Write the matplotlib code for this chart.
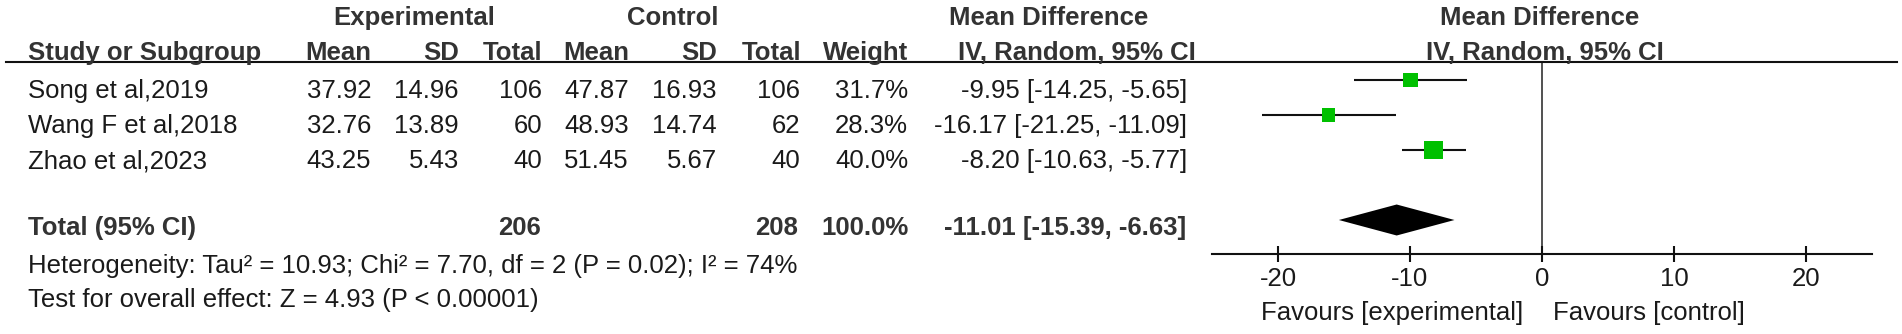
import matplotlib.pyplot as plt

# study data
studies = ["Song et al,2019", "Wang F et al,2018", "Zhao et al,2023"]
exp_mean = [37.92, 32.76, 43.25]
exp_sd = [14.96, 13.89, 5.43]
exp_n = [106, 60, 40]
ctl_mean = [47.87, 48.93, 51.45]
ctl_sd = [16.93, 14.74, 5.67]
ctl_n = [106, 62, 40]
weight = [31.7, 28.3, 40.0]
md = [-9.95, -16.17, -8.20]
md_lo = [-14.25, -21.25, -10.63]
md_hi = [-5.65, -11.09, -5.77]

total_exp_n = 206
total_ctl_n = 208
total_weight = 100.0
total_md = -11.01
total_lo = -15.39
total_hi = -6.63

heterogeneity = "Heterogeneity: Tau² = 10.93; Chi² = 7.70, df = 2 (P = 0.02); I² = 74%"
overall = "Test for overall effect: Z = 4.93 (P < 0.00001)"
xticks = [-20, -10, 0, 10, 20]

W, H = 1902, 334
FS = 18.5
TXT = "#1a1a1a"
BLD = "#333333"
plt.rcParams["font.family"] = ["Liberation Sans", "DejaVu Sans"]

fig = plt.figure(figsize=(W / 100, H / 100), dpi=100)


def put(x, y, s, ha="left", bold=False):
    fig.text(x / W, 1 - y / H, s, ha=ha, va="baseline", fontsize=FS,
             fontweight="bold" if bold else "normal",
             color=BLD if bold else TXT)


# headers
put(414, 25, "Experimental", "center", True)
put(673, 25, "Control", "center", True)
put(1049, 25, "Mean Difference", "center", True)
put(1540, 25, "Mean Difference", "center", True)

put(28, 60, "Study or Subgroup", bold=True)
put(371, 60, "Mean", "right", True)
put(459, 60, "SD", "right", True)
put(542, 60, "Total", "right", True)
put(629, 60, "Mean", "right", True)
put(717, 60, "SD", "right", True)
put(801, 60, "Total", "right", True)
put(908, 60, "Weight", "right", True)
put(1077, 60, "IV, Random, 95% CI", "center", True)
put(1545, 60, "IV, Random, 95% CI", "center", True)

fig.add_artist(plt.Line2D([6 / W, 1897 / W], [1 - 62 / H, 1 - 62 / H],
                          color="#111111", lw=1.5))

# study rows
for i in range(len(studies)):
    y = 98 + 35 * i
    put(28, y, studies[i])
    put(371, y, "%.2f" % exp_mean[i], "right")
    put(459, y, "%.2f" % exp_sd[i], "right")
    put(542, y, "%d" % exp_n[i], "right")
    put(629, y, "%.2f" % ctl_mean[i], "right")
    put(717, y, "%.2f" % ctl_sd[i], "right")
    put(800, y, "%d" % ctl_n[i], "right")
    put(908, y, "%.1f%%" % weight[i], "right")
    put(1187, y, "%.2f [%.2f, %.2f]" % (md[i], md_lo[i], md_hi[i]), "right")

# total row
put(28, 235, "Total (95% CI)", bold=True)
put(541, 235, "%d" % total_exp_n, "right", True)
put(798, 235, "%d" % total_ctl_n, "right", True)
put(909, 235, "%.1f%%" % total_weight, "right", True)
put(1186, 235, "%.2f [%.2f, %.2f]" % (total_md, total_lo, total_hi), "right", True)
put(28, 273, heterogeneity)
put(28, 307, overall)

# forest plot
ax = fig.add_axes([1212 / W, 1 - 254 / H, 660 / W, (254 - 62) / H])
ax.set_xlim(-25, 25)
ax.set_ylim(174 / 35, -18 / 35)
rows = list(range(len(studies)))
ax.hlines(rows, md_lo, md_hi, color="#111111", lw=1.5, zorder=2)
sizes = [(0.47 * w * 0.72) ** 2 for w in weight]
ax.scatter(md, rows, s=sizes, marker="s", color="#00c000", linewidths=0, zorder=3)

ty = len(studies) + 1
h = 15.5 / 35
ax.fill([total_lo, total_md, total_hi, total_md], [ty, ty - h, ty, ty + h],
        color="black", lw=0, zorder=3)
ax.axvline(0, color="#333333", lw=1.2, zorder=1)

for s in ["top", "right", "left"]:
    ax.spines[s].set_visible(False)
ax.spines["bottom"].set_linewidth(1.5)
ax.spines["bottom"].set_color("#111111")
ax.set_yticks([])
ax.set_xticks(xticks)
ax.set_xticklabels([str(t) for t in xticks])
ax.tick_params(axis="x", direction="inout", length=11, width=1.5,
               color="#111111", pad=3.5, labelsize=FS, labelcolor=TXT)
ax.patch.set_visible(False)

put(1523, 320, "Favours [experimental]", "right")
put(1553, 320, "Favours [control]")

fig.savefig("out.png", dpi=100)
